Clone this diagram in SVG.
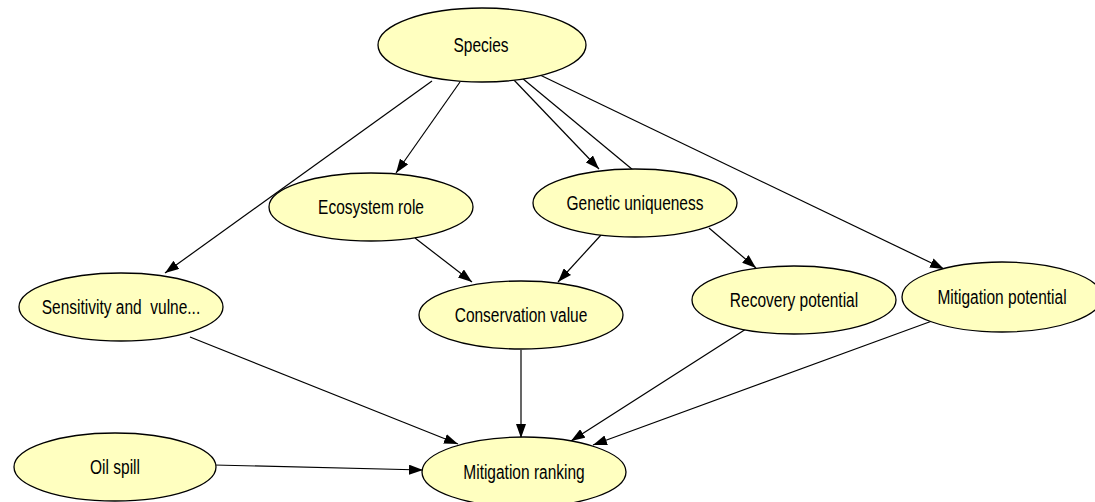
<svg xmlns="http://www.w3.org/2000/svg" width="1095" height="502" viewBox="0 0 1095 502">
<style>
.n ellipse{fill:#ffffc0;stroke:#000;stroke-width:1.3}
.n text{font-family:"Liberation Sans",Arial,sans-serif;font-size:15.5px;fill:#000;text-anchor:middle;dominant-baseline:central}
.e line{stroke:#000;stroke-width:1.2}
.a{marker-end:url(#ar)}
</style>
<defs>
<marker id="ar" viewBox="0 0 14 10" refX="14" refY="5" markerWidth="14" markerHeight="10" markerUnits="userSpaceOnUse" orient="auto">
<path d="M0,0 L14,5 L0,10 z" fill="#000"/>
</marker>
</defs>
<rect width="1095" height="502" fill="#fff"/>
<g class="e" id="connectors">
<line class="a" x1="432" y1="81" x2="165" y2="273"/>
<line class="a" x1="460" y1="82" x2="396" y2="173"/>
<line class="a" x1="513" y1="79" x2="599" y2="169"/>
<line x1="522" y1="78" x2="633" y2="170"/>
<line class="a" x1="540" y1="75" x2="944" y2="269"/>
<line class="a" x1="415" y1="238" x2="472" y2="282"/>
<line class="a" x1="601" y1="235" x2="558" y2="282"/>
<line class="a" x1="709" y1="228" x2="756" y2="268"/>
<line class="a" x1="190" y1="337" x2="458" y2="444"/>
<line class="a" x1="521" y1="350" x2="521" y2="438"/>
<line class="a" x1="746" y1="329" x2="571" y2="441"/>
<line class="a" x1="932" y1="321" x2="593" y2="445"/>
<line class="a" x1="214" y1="465" x2="423" y2="470"/>
</g>
<g class="n" id="species"><ellipse cx="482" cy="45" rx="104" ry="37"/><text transform="translate(481,45) scale(1,1.3)">Species</text></g>
<g class="n" id="ecosystem"><ellipse cx="371" cy="207" rx="102" ry="34"/><text transform="translate(371,207) scale(1,1.3)">Ecosystem role</text></g>
<g class="n" id="genetic"><ellipse cx="635" cy="203" rx="102" ry="34"/><text transform="translate(635,203) scale(1,1.3)">Genetic uniqueness</text></g>
<g class="n" id="sensitivity"><ellipse cx="121" cy="307" rx="102" ry="34"/><text transform="translate(121,307) scale(1,1.3)" xml:space="preserve">Sensitivity and  vulne...</text></g>
<g class="n" id="conservation"><ellipse cx="521" cy="315" rx="102" ry="34"/><text transform="translate(521,315) scale(1,1.3)">Conservation value</text></g>
<g class="n" id="recovery"><ellipse cx="794" cy="300" rx="102" ry="34"/><text transform="translate(794,300) scale(1,1.3)">Recovery potential</text></g>
<g class="n" id="mitigation-potential"><ellipse cx="1002" cy="297" rx="100" ry="35"/><text transform="translate(1002,297) scale(1,1.3)">Mitigation potential</text></g>
<g class="n" id="oil-spill"><ellipse cx="115" cy="467" rx="101" ry="34"/><text transform="translate(115,467) scale(1,1.3)">Oil spill</text></g>
<g class="n" id="mitigation-ranking"><ellipse cx="524" cy="472" rx="102" ry="35"/><text transform="translate(524,472) scale(1,1.3)">Mitigation ranking</text></g>
</svg>
